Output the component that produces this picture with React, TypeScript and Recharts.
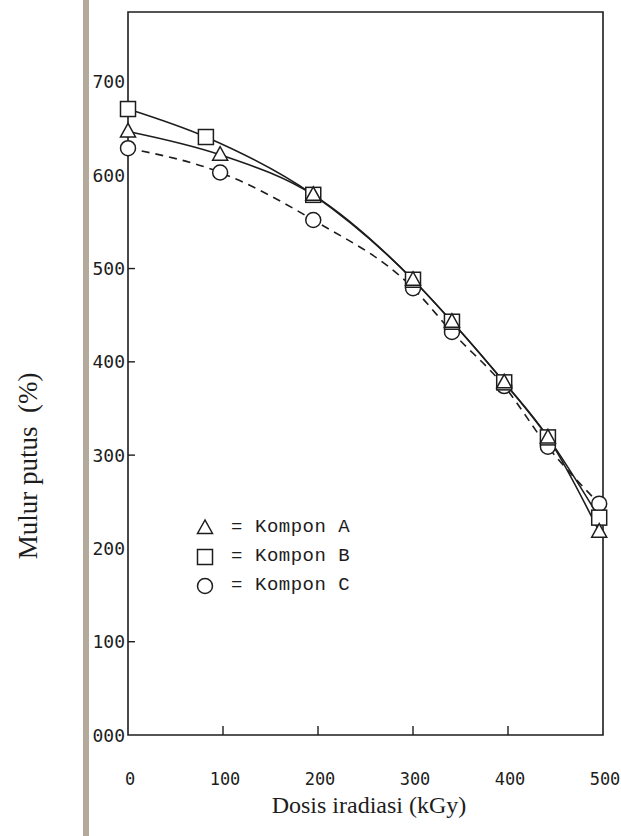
import React from "react";
import { LineChart, Line, XAxis, YAxis, ReferenceArea, Legend } from "recharts";

// Mulur putus (%) vs dosis iradiasi (kGy)
const DOSE_A = [0, 97, 195, 300, 341, 396, 442, 496];
const MULUR_A = [647, 622, 579, 488, 443, 378, 319, 218];
const DOSE_B = [0, 82, 195, 300, 341, 396, 442, 496];
const MULUR_B = [671, 641, 579, 488, 443, 378, 319, 233];
const DOSE_C = [0, 97, 195, 300, 341, 396, 442, 496];
const MULUR_C = [629, 603, 552, 479, 432, 374, 309, 248];

const X_TICKS = [0, 100, 200, 300, 400, 500];
const Y_TICKS = [0, 100, 200, 300, 400, 500, 600, 700];
// only these tick marks show in the scan
const X_MARKS = [100, 200, 300, 400];
const Y_MARKS = [100, 300, 400, 500];

const INK = "#1d1d1d";
const MONO = "'DejaVu Sans Mono', monospace";
const SERIF = "'Liberation Serif', serif";

type Shape = "triangle" | "square" | "circle";

const SERIES: { key: string; label: string; shape: Shape; dash?: string; dose: number[]; vals: number[] }[] = [
  { key: "C", label: "Kompon C", shape: "circle", dash: "8 6", dose: DOSE_C, vals: MULUR_C },
  { key: "B", label: "Kompon B", shape: "square", dose: DOSE_B, vals: MULUR_B },
  { key: "A", label: "Kompon A", shape: "triangle", dose: DOSE_A, vals: MULUR_A },
];

const toRows = (dose: number[], vals: number[]) => dose.map((d, i) => ({ dose: d, mulur: vals[i] }));

function Marker({ shape, cx, cy }: { shape: Shape; cx: number; cy: number }) {
  const common = { fill: "#fff", stroke: INK, strokeWidth: 1.5 };
  if (shape === "square") return <rect x={cx - 7.5} y={cy - 7.5} width={15} height={15} {...common} />;
  if (shape === "circle") return <circle cx={cx} cy={cy} r={7.5} {...common} />;
  return <polygon points={`${cx},${cy - 8} ${cx - 7.5},${cy + 5.5} ${cx + 7.5},${cy + 5.5}`} {...common} />;
}

const makeDot = (shape: Shape) => (props: any) => {
  const { cx, cy, index } = props;
  if (cx == null || cy == null) return <g key={index} />;
  return (
    <g key={index}>
      <Marker shape={shape} cx={cx} cy={cy} />
    </g>
  );
};

const XTick = ({ x, y, payload }: any) => (
  <g>
    {X_MARKS.includes(payload.value) && (
      <line x1={x} x2={x} y1={y} y2={y - 9} stroke={INK} strokeWidth={1.4} />
    )}
    <text x={x + 2} y={y + 44} textAnchor="middle" dominantBaseline="central" fontFamily={MONO} fontSize={17} fill={INK}>
      {payload.value}
    </text>
  </g>
);

const YTick = ({ x, y, payload }: any) => (
  <g>
    {Y_MARKS.includes(payload.value) && (
      <line x1={x} x2={x + 7} y1={y} y2={y} stroke={INK} strokeWidth={1.4} />
    )}
    <text x={x - 3} y={y} textAnchor="end" dominantBaseline="central" fontFamily={MONO} fontSize={18} fill={INK}>
      {payload.value === 0 ? "000" : payload.value}
    </text>
  </g>
);

const LEGEND_ORDER = ["A", "B", "C"];

function KomponLegend() {
  return (
    <div style={{ fontFamily: "'Liberation Mono', monospace", fontSize: 19, letterSpacing: 0.5, color: INK }}>
      {LEGEND_ORDER.map((k) => {
        const s = SERIES.find((x) => x.key === k)!;
        return (
          <div key={k} style={{ position: "relative", height: 29, whiteSpace: "pre" }}>
            <svg width={22} height={22} style={{ position: "absolute", left: 0, top: 3 }}>
              <Marker shape={s.shape} cx={11} cy={12} />
            </svg>
            <span style={{ position: "absolute", left: 37, top: 3 }}>=</span>
            <span style={{ position: "absolute", left: 61, top: 3 }}>{s.label}</span>
          </div>
        );
      })}
    </div>
  );
}

export default function App() {
  return (
    <div style={{ position: "absolute", left: 0, top: 0, width: 621, height: 836, background: "#fff" }}>
      {/* edge of the scanned page */}
      <div style={{ position: "absolute", left: 83, top: 0, width: 6, height: 836, background: "#b3aa9c" }} />
      <LineChart width={621} height={836} margin={{ top: 12, right: 18, bottom: 1, left: 68 }}>
        <XAxis
          type="number"
          dataKey="dose"
          domain={[0, 500]}
          ticks={X_TICKS}
          allowDuplicatedCategory={false}
          axisLine={false}
          tickLine={false}
          tickSize={0}
          tickMargin={0}
          height={100}
          tick={<XTick />}
          label={({ viewBox }: any) => (
            <text
              x={369}
              y={viewBox.y + 70}
              textAnchor="middle"
              dominantBaseline="central"
              fontFamily={SERIF}
              fontSize={24}
              fill={INK}
            >
              Dosis iradiasi (kGy)
            </text>
          )}
        />
        <YAxis
          type="number"
          domain={[0, 775]}
          ticks={Y_TICKS}
          axisLine={false}
          tickLine={false}
          tickSize={0}
          tickMargin={0}
          width={60}
          tick={<YTick />}
          label={() => {
            const cx = 28;
            const cy = 466;
            return (
              <text
                x={cx}
                y={cy}
                transform={`rotate(-90 ${cx} ${cy})`}
                textAnchor="middle"
                dominantBaseline="central"
                fontFamily={SERIF}
                fontSize={27}
                fill={INK}
                style={{ whiteSpace: "pre" }}
              >
                Mulur putus  (%)
              </text>
            );
          }}
        />
        <ReferenceArea x1={0} x2={500} y1={0} y2={775} fill="none" stroke={INK} strokeWidth={1.6} ifOverflow="extendDomain" />
        {SERIES.map((s) => (
          <Line
            key={s.key}
            data={toRows(s.dose, s.vals)}
            dataKey="mulur"
            name={s.label}
            type="monotone"
            stroke={INK}
            strokeWidth={1.6}
            strokeDasharray={s.dash}
            dot={makeDot(s.shape)}
            activeDot={false}
            isAnimationActive={false}
          />
        ))}
        <Legend
          layout="vertical"
          align="center"
          verticalAlign="middle"
          content={<KomponLegend />}
          wrapperStyle={{ left: 194, top: 513, width: 200 }}
        />
      </LineChart>
    </div>
  );
}
